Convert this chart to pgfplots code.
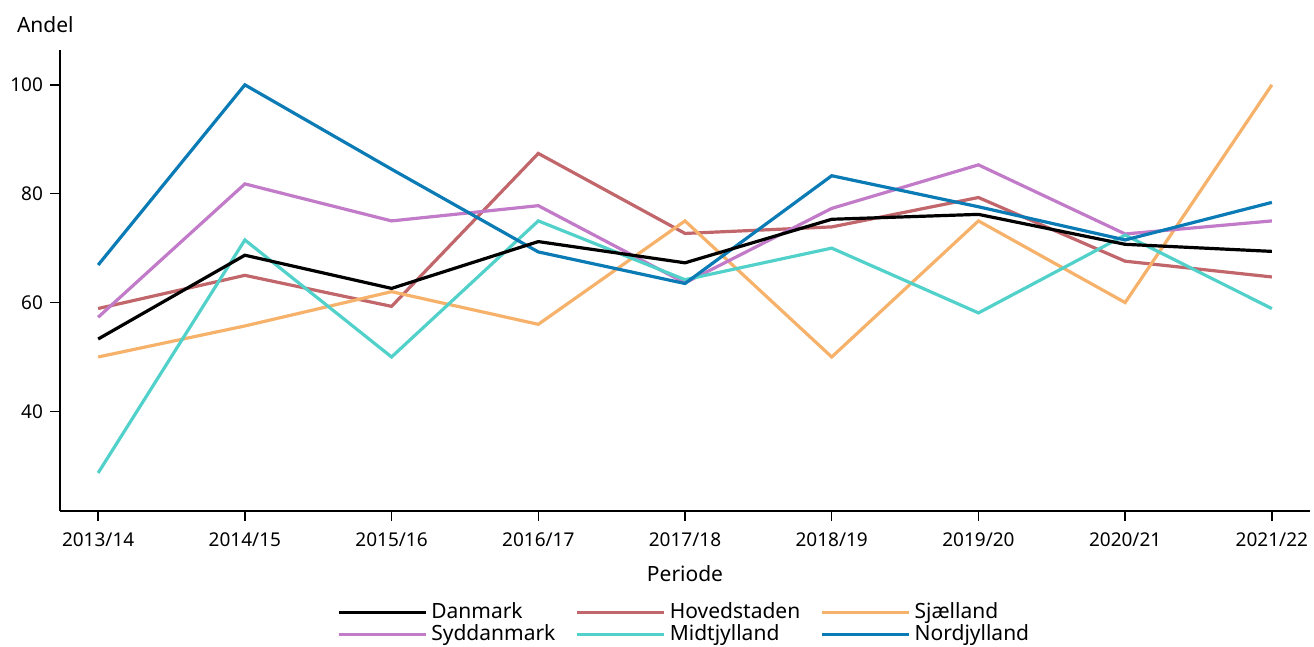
\documentclass[border=0pt]{standalone}
\usepackage{pgfplots}
\pgfplotsset{compat=1.18}
\usepackage{fontspec}
\setmainfont{Noto Sans}
\definecolor{cDan}{HTML}{000000}
\definecolor{cHov}{HTML}{C1666B}
\definecolor{cSja}{HTML}{F6B26B}
\definecolor{cSyd}{HTML}{C27BC8}
\definecolor{cMid}{HTML}{52D1CA}
\definecolor{cNor}{HTML}{0B7BB5}
\begin{document}
\begin{tikzpicture}
\begin{axis}[
  name=ax,
  scale only axis,
  width=625pt, height=230.5pt,
  xmin=-0.26, xmax=8.26,
  ymin=21.7, ymax=106.4,
  axis lines*=left,
  axis line style={line width=0.9pt},
  xtick={0,1,2,3,4,5,6,7,8},
  xticklabels={2013/14,2014/15,2015/16,2016/17,2017/18,2018/19,2019/20,2020/21,2021/22},
  ytick={40,60,80,100},
  tick style={line width=0.7pt, black},
  tick align=outside,
  major tick length=5pt,
  tick label style={font=\fontsize{9.5}{11}\selectfont},
  xticklabel style={yshift=-2.3pt},
  /pgf/number format/assume math mode=true,
  every axis plot/.append style={line width=1.6pt, no markers},
  legend columns=3,
  legend style={draw=none, fill=none, at={(0.5,-0.181)}, anchor=north,
    font=\fontsize{10.5}{11}\selectfont, row sep=-2.5pt,
    /tikz/every even column/.append style={column sep=8pt}},
  legend cell align=left,
  legend image code/.code={\draw[#1, line width=1.7pt] (0pt,0pt) -- (43.5pt,0pt);},
  clip=false,
]
\addplot[cHov, forget plot] coordinates {(0,58.9) (1,65.0) (2,59.3) (3,87.4) (4,72.7) (5,73.9) (6,79.3) (7,67.6) (8,64.7)};
\addplot[cSja, forget plot] coordinates {(0,50.0) (1,55.7) (2,62.0) (3,56.0) (4,75.0) (5,50.0) (6,75.0) (7,60.0) (8,100.0)};
\addplot[cSyd, forget plot] coordinates {(0,57.3) (1,81.8) (2,75.0) (3,77.8) (4,63.6) (5,77.3) (6,85.3) (7,72.6) (8,75.0)};
\addplot[cMid, forget plot] coordinates {(0,28.7) (1,71.5) (2,50.0) (3,75.0) (4,64.2) (5,70.0) (6,58.1) (7,72.4) (8,58.9)};
\addplot[cNor, forget plot] coordinates {(0,66.9) (1,100.0) (2,84.5) (3,69.3) (4,63.5) (5,83.3) (6,77.6) (7,71.5) (8,78.4)};
\addplot[cDan, forget plot] coordinates {(0,53.3) (1,68.7) (2,62.6) (3,71.2) (4,67.3) (5,75.3) (6,76.2) (7,70.7) (8,69.4)};
\addlegendimage{cDan}\addlegendentry{Danmark}
\addlegendimage{cHov}\addlegendentry{Hovedstaden}
\addlegendimage{cSja}\addlegendentry{Sjælland}
\addlegendimage{cSyd}\addlegendentry{Syddanmark}
\addlegendimage{cMid}\addlegendentry{Midtjylland}
\addlegendimage{cNor}\addlegendentry{Nordjylland}
\node[anchor=base west, font=\fontsize{10.5}{11}\selectfont] at ([xshift=-25pt, yshift=9pt]rel axis cs:0,1) {Andel};
\node[anchor=base, font=\fontsize{10.5}{11}\selectfont] at ([yshift=-35pt]rel axis cs:0.5,0) {Periode};
\end{axis}
\pgfresetboundingbox
\path[use as bounding box] ([xshift=-30pt, yshift=25pt]ax.north west) rectangle ([xshift=2pt, yshift=-67.5pt]ax.south east);
\end{tikzpicture}
\end{document}
